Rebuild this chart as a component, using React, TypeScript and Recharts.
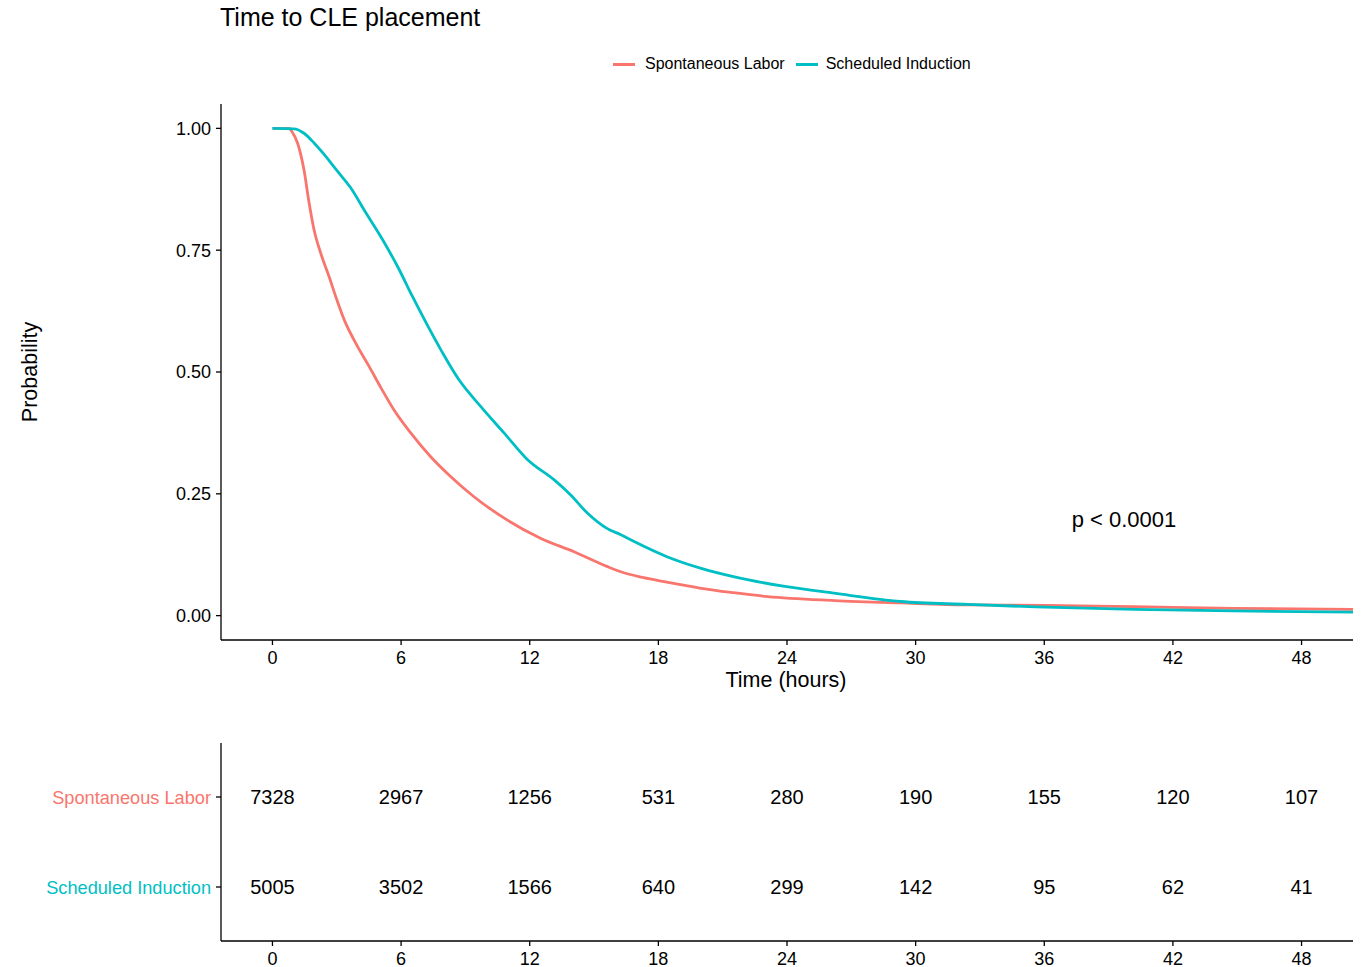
import React from 'react';
import { LineChart, Line, XAxis, YAxis, ScatterChart, Scatter } from 'recharts';

const RED = '#F8766D';
const CYAN = '#00BFC4';
const FONT = '"Liberation Sans", Arial, sans-serif';

// survival curves (time in hours, probability)
const spontaneousLabor = [
  { t: 0, s: 1.0 }, { t: 0.8, s: 1.0 }, { t: 0.85, s: 0.997 }, { t: 1.17, s: 0.97 },
  { t: 1.47, s: 0.915 }, { t: 1.71, s: 0.847 }, { t: 1.94, s: 0.792 }, { t: 2.25, s: 0.744 },
  { t: 2.64, s: 0.696 }, { t: 2.95, s: 0.655 }, { t: 3.34, s: 0.608 }, { t: 3.96, s: 0.553 },
  { t: 4.5, s: 0.512 }, { t: 5.07, s: 0.467 }, { t: 5.67, s: 0.422 }, { t: 6.45, s: 0.375 },
  { t: 7.38, s: 0.326 }, { t: 8.32, s: 0.285 }, { t: 9.4, s: 0.244 }, { t: 10.96, s: 0.196 },
  { t: 12.5, s: 0.159 }, { t: 14.07, s: 0.131 }, { t: 15.6, s: 0.101 }, { t: 16.25, s: 0.09 },
  { t: 17.2, s: 0.079 }, { t: 18.0, s: 0.072 }, { t: 19.1, s: 0.063 }, { t: 20.0, s: 0.056 },
  { t: 21.5, s: 0.047 }, { t: 23.1, s: 0.039 }, { t: 26.2, s: 0.031 }, { t: 29.3, s: 0.026 },
  { t: 32.4, s: 0.022 }, { t: 36.1, s: 0.021 }, { t: 40.2, s: 0.0185 }, { t: 44.8, s: 0.015 },
  { t: 50.4, s: 0.013 },
];

const scheduledInduction = [
  { t: 0, s: 1.0 }, { t: 1.0, s: 0.999 }, { t: 1.47, s: 0.99 }, { t: 1.94, s: 0.97 },
  { t: 2.4, s: 0.947 }, { t: 3.03, s: 0.912 }, { t: 3.65, s: 0.878 }, { t: 4.27, s: 0.833 },
  { t: 5.05, s: 0.778 }, { t: 5.83, s: 0.717 }, { t: 6.53, s: 0.655 },
  { t: 7.85, s: 0.546 }, { t: 8.7, s: 0.484 }, { t: 9.72, s: 0.429 }, { t: 10.8, s: 0.375 },
  { t: 11.9, s: 0.32 }, { t: 13.13, s: 0.279 }, { t: 13.9, s: 0.248 }, { t: 14.7, s: 0.21 },
  { t: 15.6, s: 0.179 }, { t: 16.25, s: 0.166 }, { t: 16.87, s: 0.152 }, { t: 18.4, s: 0.121 },
  { t: 20.0, s: 0.097 }, { t: 21.5, s: 0.08 }, { t: 23.9, s: 0.06 }, { t: 26.2, s: 0.046 },
  { t: 29.3, s: 0.029 }, { t: 32.4, s: 0.023 }, { t: 35.6, s: 0.018 }, { t: 40.2, s: 0.013 },
  { t: 44.8, s: 0.0097 }, { t: 50.4, s: 0.007 },
];

const timeTicks = [0, 6, 12, 18, 24, 30, 36, 42, 48];
const probTicks = [0, 0.25, 0.5, 0.75, 1];

// number at risk
const riskSpontaneous = [7328, 2967, 1256, 531, 280, 190, 155, 120, 107];
const riskScheduled = [5005, 3502, 1566, 640, 299, 142, 95, 62, 41];

const riskRows = [
  { y: 2, name: 'Spontaneous Labor', color: RED, counts: riskSpontaneous },
  { y: 1, name: 'Scheduled Induction', color: CYAN, counts: riskScheduled },
];

const riskData = riskRows.flatMap((row) =>
  row.counts.map((n, i) => ({ x: timeTicks[i], y: row.y, n }))
);

const axisStyle = { stroke: '#000', strokeWidth: 1.3 };

const RiskRowTick = (props: any) => {
  const { x, y, payload } = props;
  const row = riskRows.find((r) => r.y === payload.value);
  return (
    <text x={x} y={y} dy="0.36em" textAnchor="end" fill={row?.color} fontSize={18.2} fontFamily={FONT}>
      {row?.name}
    </text>
  );
};

const RiskCount = (props: any) => {
  const { cx, cy, payload } = props;
  return (
    <text x={cx} y={cy} dy="0.36em" textAnchor="middle" fill="#000" fontSize={20} fontFamily={FONT}>
      {payload.n}
    </text>
  );
};

const App: React.FC = () => {
  return (
    <div style={{ position: 'absolute', left: 0, top: 0, width: 1363, height: 967, background: '#fff', fontFamily: FONT }}>
      <div style={{ position: 'absolute', left: 220, top: 3, fontSize: 25, lineHeight: '29px', color: '#000' }}>
        Time to CLE placement
      </div>

      {/* legend */}
      <div style={{ position: 'absolute', left: 613, top: 54, height: 20, display: 'flex', alignItems: 'center', fontSize: 16, color: '#000' }}>
        <span style={{ width: 22, height: 3, background: RED, marginRight: 10 }} />
        <span style={{ marginRight: 11 }}>Spontaneous Labor</span>
        <span style={{ width: 22, height: 3, background: CYAN, marginRight: 8 }} />
        <span>Scheduled Induction</span>
      </div>

      <div style={{ position: 'absolute', left: 30, top: 372, transform: 'translate(-50%, -50%) rotate(-90deg)', fontSize: 21.5, whiteSpace: 'nowrap', color: '#000' }}>
        Probability
      </div>

      <div style={{ position: 'absolute', left: 0, top: 0 }}>
        <LineChart width={1363} height={700} margin={{ top: 104, right: 10, bottom: 30, left: 161 }}>
          <XAxis
            dataKey="t"
            type="number"
            domain={[-2.4, 50.4]}
            ticks={timeTicks}
            allowDataOverflow
            height={30}
            axisLine={axisStyle}
            tickLine={axisStyle}
            tickSize={5}
            tickMargin={6}
            tick={{ fill: '#000', fontSize: 18, fontFamily: FONT }}
          />
          <YAxis
            type="number"
            domain={[-0.05, 1.05]}
            ticks={probTicks}
            allowDataOverflow
            width={60}
            axisLine={axisStyle}
            tickLine={axisStyle}
            tickSize={5}
            tickMargin={5}
            tickFormatter={(v: number) => v.toFixed(2)}
            tick={{ fill: '#000', fontSize: 18, fontFamily: FONT }}
          />
          <Line data={spontaneousLabor} dataKey="s" type="monotone" stroke={RED} strokeWidth={2.8} dot={false} isAnimationActive={false} />
          <Line data={scheduledInduction} dataKey="s" type="monotone" stroke={CYAN} strokeWidth={2.8} dot={false} isAnimationActive={false} />
        </LineChart>
      </div>

      <div style={{ position: 'absolute', left: 1124, top: 520, transform: 'translate(-50%, -50%)', fontSize: 22, whiteSpace: 'nowrap', color: '#000' }}>
        p &lt; 0.0001
      </div>

      <div style={{ position: 'absolute', left: 786, top: 680, transform: 'translate(-50%, -50%)', fontSize: 21.5, whiteSpace: 'nowrap', color: '#000' }}>
        Time (hours)
      </div>

      {/* risk table */}
      <div style={{ position: 'absolute', left: 0, top: 700 }}>
        <ScatterChart width={1363} height={267} margin={{ top: 43, right: 10, bottom: 0, left: 11 }}>
          <XAxis
            dataKey="x"
            type="number"
            domain={[-2.4, 50.4]}
            ticks={timeTicks}
            allowDataOverflow
            height={26}
            axisLine={axisStyle}
            tickLine={axisStyle}
            tickSize={5}
            tickMargin={6}
            tick={{ fill: '#000', fontSize: 18, fontFamily: FONT }}
          />
          <YAxis
            dataKey="y"
            type="number"
            domain={[0.4, 2.6]}
            ticks={[1, 2]}
            width={210}
            axisLine={axisStyle}
            tickLine={axisStyle}
            tickSize={5}
            tickMargin={5}
            tick={<RiskRowTick />}
          />
          <Scatter data={riskData} shape={<RiskCount />} isAnimationActive={false} />
        </ScatterChart>
      </div>
    </div>
  );
};

export default App;
